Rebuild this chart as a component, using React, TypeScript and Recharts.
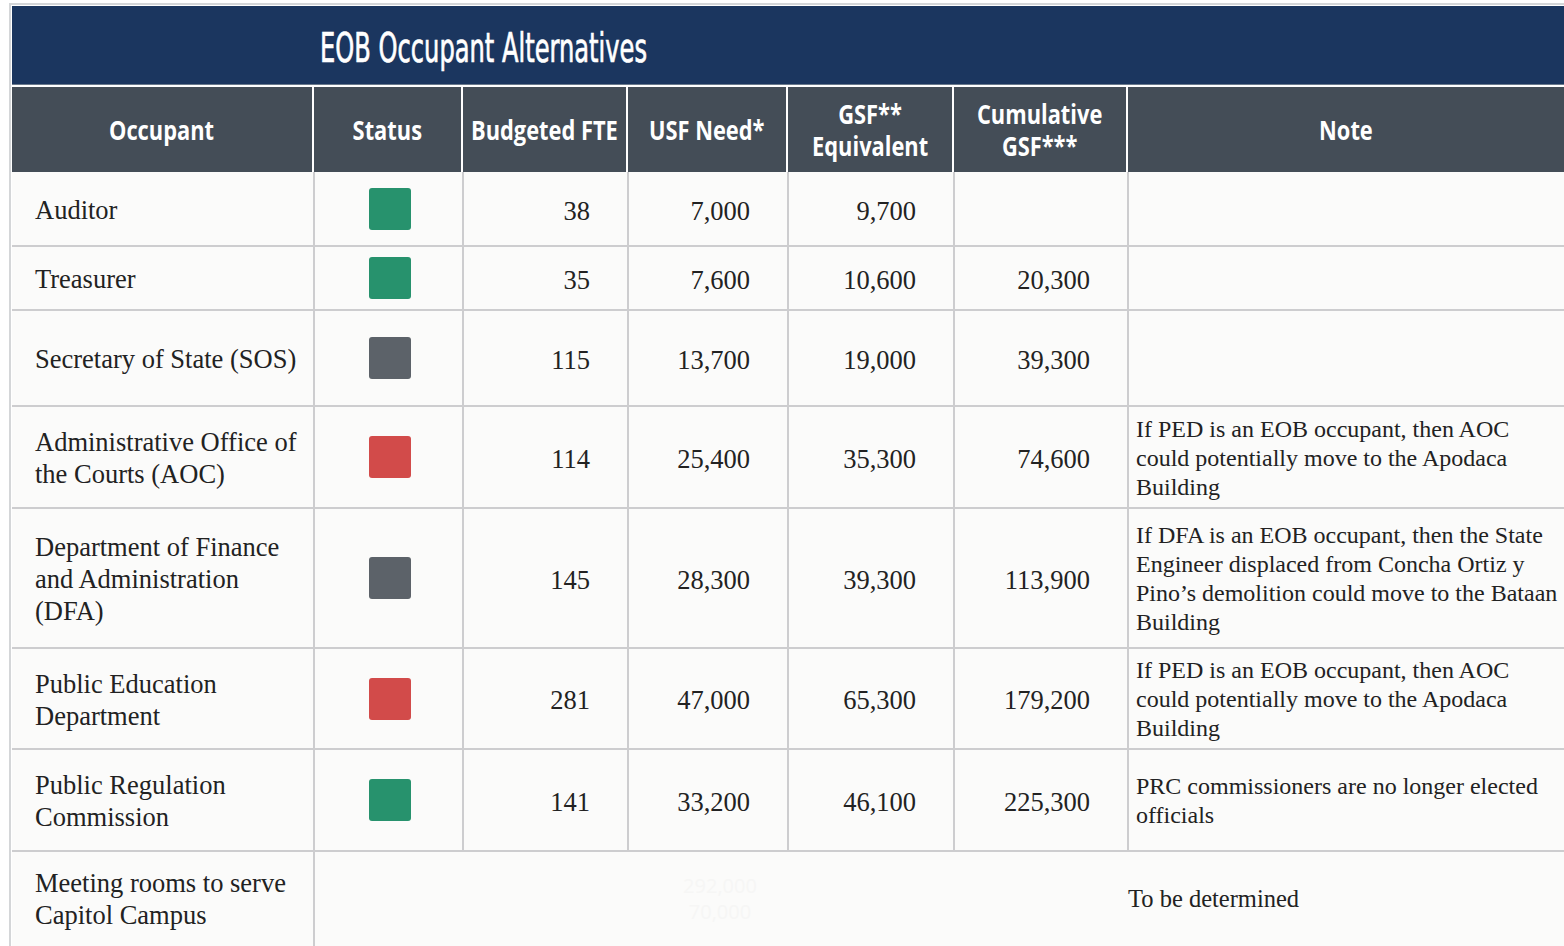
import React from 'react';
import { Surface, Rectangle } from 'recharts';

// table content
const title = 'EOB Occupant Alternatives';
const headers = ['Occupant', 'Status', 'Budgeted FTE', 'USF Need*', 'GSF**\nEquivalent', 'Cumulative\nGSF***', 'Note'];
const occupants = [
  'Auditor',
  'Treasurer',
  'Secretary of State (SOS)',
  'Administrative Office of\nthe Courts (AOC)',
  'Department of Finance\nand Administration\n(DFA)',
  'Public Education\nDepartment',
  'Public Regulation\nCommission',
];
const statuses = ['go', 'go', 'hold', 'conflict', 'hold', 'conflict', 'go'];
const budgetedFte = [38, 35, 115, 114, 145, 281, 141];
const usfNeed = [7000, 7600, 13700, 25400, 28300, 47000, 33200];
const gsfEquivalent = [9700, 10600, 19000, 35300, 39300, 65300, 46100];
const cumulativeGsf: (number | null)[] = [null, 20300, 39300, 74600, 113900, 179200, 225300];
const notes = [
  '',
  '',
  '',
  'If PED is an EOB occupant, then AOC\ncould potentially move to the Apodaca\nBuilding',
  'If DFA is an EOB occupant, then the State\nEngineer displaced from Concha Ortiz y\nPino\u2019s demolition could move to the Bataan\nBuilding',
  'If PED is an EOB occupant, then AOC\ncould potentially move to the Apodaca\nBuilding',
  'PRC commissioners are no longer elected\nofficials',
];
const meetingLabel = 'Meeting rooms to serve\nCapitol Campus';
const meetingNote = 'To be determined';
const hiddenTotals = [292000, 70000];

const statusColors: Record<string, string> = { go: '#27926d', hold: '#5c6269', conflict: '#d24b4a' };

const colX = [12, 314, 463, 628, 788, 954, 1128, 1564];
const rowH = [74, 64, 96, 102, 140, 101, 102, 95];
const HEADER_TOP = 87;
const HEADER_H = 85;

const serif = "'Liberation Serif', 'DejaVu Serif', serif";
const sans = "'Open Sans', 'Noto Sans', sans-serif";
const fmt = (v: number | null) => (v == null ? '' : v.toLocaleString('en-US'));

function StatusBox({ status }: { status: string }) {
  return (
    <Surface width={44} height={44} viewBox={{ x: 0, y: 0, width: 44, height: 44 }}>
      <Rectangle x={1} y={1} width={42} height={42} radius={3} fill={statusColors[status]} />
    </Surface>
  );
}

export default function App() {
  const rowTops: number[] = [];
  let y = HEADER_TOP + HEADER_H;
  rowH.forEach((h) => { rowTops.push(y); y += h; });
  const cell = (c: number, top: number, h: number, extra: React.CSSProperties = {}): React.CSSProperties => ({
    position: 'absolute', left: colX[c], top, width: colX[c + 1] - colX[c], height: h,
    display: 'flex', alignItems: 'center', boxSizing: 'border-box', ...extra,
  });
  const numCell = (c: number, i: number, v: number | null) => (
    <div key={c} style={cell(c, rowTops[i] + 2, rowH[i], { justifyContent: 'flex-end', paddingRight: 38, fontFamily: serif, fontSize: 26.5, color: '#222' })}>
      {fmt(v)}
    </div>
  );
  return (
    <div style={{ position: 'absolute', left: 0, top: 0, width: 1564, height: 946, overflow: 'hidden', background: '#fff' }}>
      {/* outer border */}
      <div style={{ position: 'absolute', left: 9, top: 3, width: 1560, height: 950, borderLeft: '2px solid #d4d6d8', borderTop: '2px solid #d4d6d8' }} />
      {/* title band */}
      <div style={{ position: 'absolute', left: 12, top: 6, width: 1552, height: 78, background: '#1b365f', borderBottom: '1px solid #6b7a8c' }}>
        <svg width={1552} height={78} style={{ position: 'absolute', left: 0, top: 0 }}>
          <text x={308} y={56} fill="#fff" stroke="#fff" strokeWidth={0.7} fontFamily="'DejaVu Sans Condensed', sans-serif" fontSize={40} textLength={327} lengthAdjust="spacingAndGlyphs">{title}</text>
        </svg>
      </div>
      {/* header row */}
      {headers.map((h, c) => (
        <div key={h} style={cell(c, HEADER_TOP, HEADER_H, {
          background: '#444d57', justifyContent: 'center', textAlign: 'center', color: '#fff',
          borderRight: c < headers.length - 1 ? '2px solid #fff' : undefined,
        })}>
          <span style={{ display: 'inline-block', transform: 'scaleX(0.84)', fontFamily: sans, fontWeight: 700, fontSize: 26, lineHeight: '32px', whiteSpace: 'pre' }}>{h}</span>
        </div>
      ))}
      {/* body background */}
      <div style={{ position: 'absolute', left: 12, top: HEADER_TOP + HEADER_H, width: 1552, height: 946, background: '#fbfbfa' }} />
      {occupants.map((o, i) => (
        <React.Fragment key={o}>
          <div style={cell(0, rowTops[i] + 1, rowH[i], { paddingLeft: 23, fontFamily: serif, fontSize: 26.5, lineHeight: '32px', color: '#222', whiteSpace: 'pre' })}>{o}</div>
          <div style={cell(1, rowTops[i], rowH[i], { justifyContent: 'center', paddingLeft: 2 })}><StatusBox status={statuses[i]} /></div>
          {numCell(2, i, budgetedFte[i])}
          {numCell(3, i, usfNeed[i])}
          {numCell(4, i, gsfEquivalent[i])}
          {numCell(5, i, cumulativeGsf[i])}
          <div style={cell(6, rowTops[i] + 1, rowH[i], { paddingLeft: 8, fontFamily: serif, fontSize: 24, lineHeight: '29px', color: '#222', whiteSpace: 'pre' })}>{notes[i]}</div>
        </React.Fragment>
      ))}
      {/* meeting rooms row */}
      <div style={cell(0, rowTops[7], rowH[7], { paddingLeft: 23, fontFamily: serif, fontSize: 26.5, lineHeight: '32px', color: '#222', whiteSpace: 'pre' })}>{meetingLabel}</div>
      <div style={{ position: 'absolute', left: 628, top: rowTops[7] + 20, width: 184, height: 56, display: 'flex', flexDirection: 'column', justifyContent: 'center', alignItems: 'center', fontFamily: sans, fontSize: 20, lineHeight: '26px', color: '#f6f6f5' }}>
        {hiddenTotals.map((t) => <div key={t}>{fmt(t)}</div>)}
      </div>
      <div style={{ position: 'absolute', left: 1128, top: rowTops[7], height: rowH[7], display: 'flex', alignItems: 'center', fontFamily: serif, fontSize: 24.5, color: '#222', whiteSpace: 'pre' }}>{meetingNote}</div>
      {/* grid lines */}
      {rowTops.slice(1).map((t) => (
        <div key={t} style={{ position: 'absolute', left: 12, top: t - 1, width: 1552, height: 2, background: '#cdcdcf' }} />
      ))}
      {colX.slice(1, -1).map((x, c) => (
        <div key={x} style={{ position: 'absolute', left: x - 1, top: HEADER_TOP + HEADER_H, width: 2, height: c === 0 ? 946 : rowTops[7] - (HEADER_TOP + HEADER_H), background: '#cdcdcf' }} />
      ))}
    </div>
  );
}
